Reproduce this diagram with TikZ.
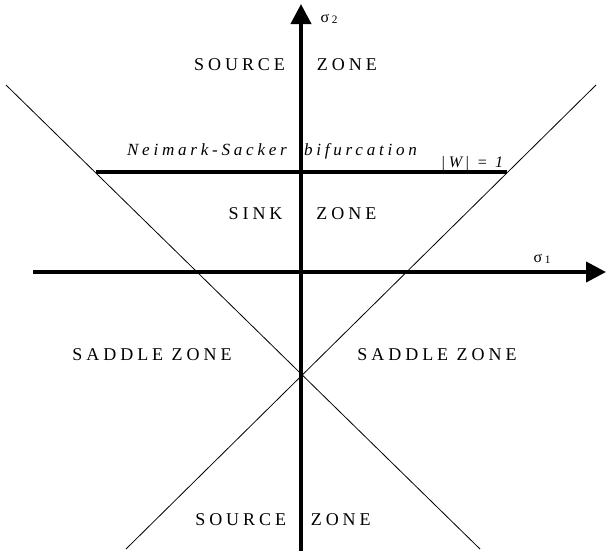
\documentclass[tikz,border=0pt]{standalone}
\usepackage{fontspec}
\setmainfont{Liberation Serif}
\newfontfamily\spacedfont[LetterSpace=22]{Liberation Serif}
\usetikzlibrary{arrows.meta}

\begin{document}
\begin{tikzpicture}[
    x=0.75pt, y=-0.75pt,
    zone/.style={
        font=\spacedfont\fontsize{13.5}{16}\selectfont,
        anchor=base,
        inner sep=0pt
    },
    bifurcation/.style={zone, font=\spacedfont\itshape\fontsize{12.8}{16}\selectfont},
    axislabel/.style={font=\fontsize{12}{14}\selectfont, anchor=base, inner sep=0pt},
    axis/.style={line width=3pt, -{Triangle[length=15pt, width=15pt]}},
    boundary/.style={line width=0.6pt},
    nsline/.style={line width=3pt}
]
\useasboundingbox (0,0) rectangle (607,551);

\coordinate (xstart) at (33,272);
\coordinate (xend) at (606,272);
\coordinate (ystart) at (301,551);
\coordinate (yend) at (301,4);
\coordinate (leftTop) at (6,85);
\coordinate (leftBottom) at (480,549);
\coordinate (rightTop) at (596,85);
\coordinate (rightBottom) at (126,549);
\coordinate (nsLeft) at (96,172);
\coordinate (nsRight) at (507,172);

% stability boundaries
\draw[boundary] (leftTop) -- (leftBottom);
\draw[boundary] (rightTop) -- (rightBottom);
\draw[nsline] (nsLeft) -- (nsRight);

% axes
\draw[axis] (xstart) -- (xend);
\draw[axis] (ystart) -- (yend);

\node[axislabel] (sigmaOne) at (542,262) {σ\kern2pt\raisebox{-1pt}{\fontsize{8.5}{9}\selectfont 1}};
\node[axislabel] (sigmaTwo) at (329,22) {σ\kern2pt\raisebox{-1pt}{\fontsize{8.5}{9}\selectfont 2}};

\node[zone] (sourceTop) at (285.5,70) {SOURCE\hspace{24pt}ZONE};
\node[zone] (sink) at (302.5,219) {SINK\hspace{25.5pt}ZONE};
\node[zone] (saddleLeft) at (152,360) {SADDLE ZONE};
\node[zone] (saddleRight) at (437,360) {SADDLE ZONE};
\node[zone] (sourceBottom) at (283,525) {SOURCE\hspace{18.5pt}ZONE};

\node[bifurcation] (nsLabel) at (272,155) {Neimark-Sacker\hspace{13pt}bifurcation};
\node[axislabel, font=\spacedfont\itshape\fontsize{12}{14}\selectfont] (unitCircle) at (472,167) {|W\,| = 1};

\end{tikzpicture}
\end{document}
